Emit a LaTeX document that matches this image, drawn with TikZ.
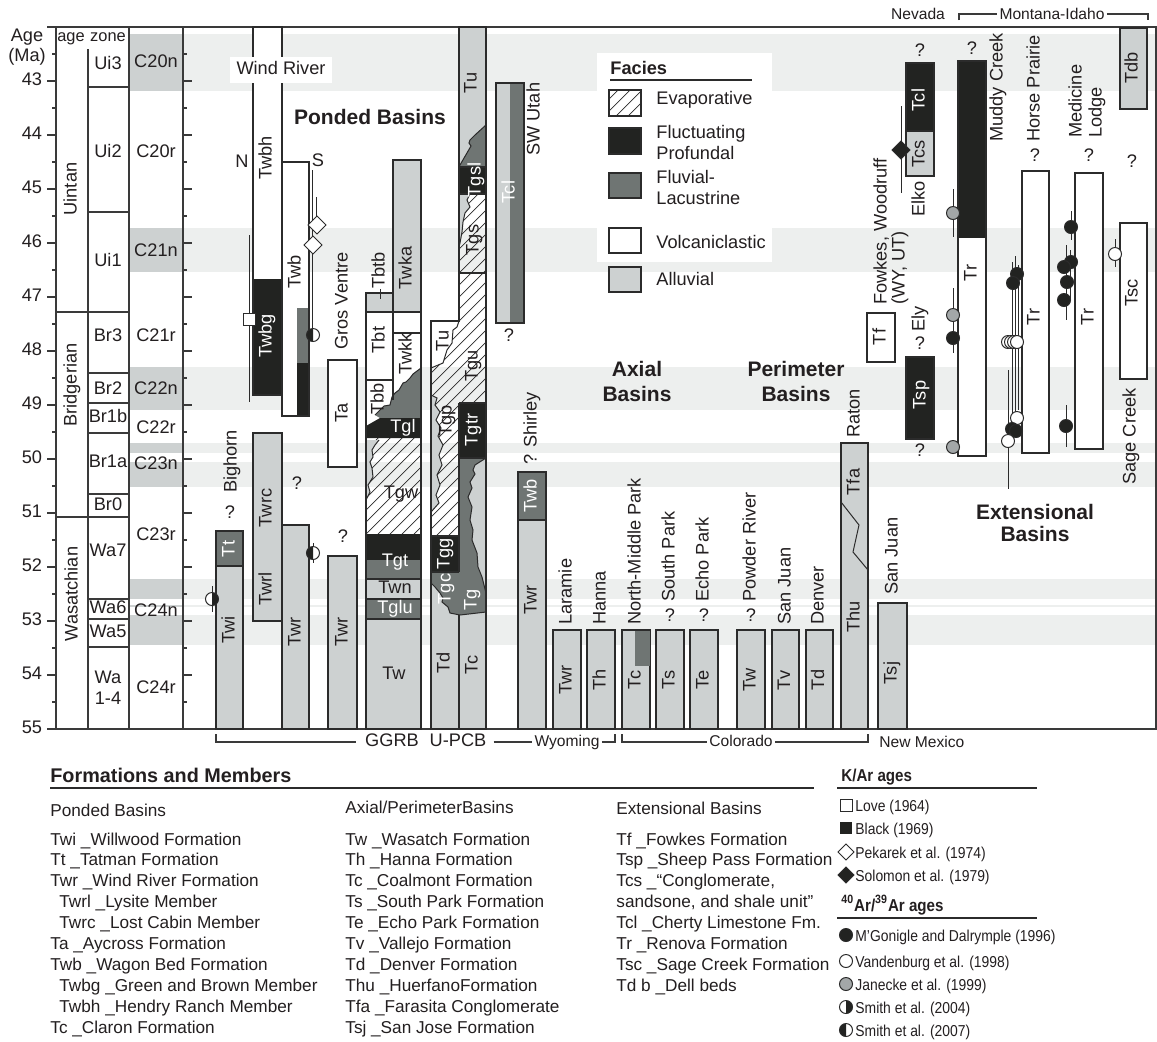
\documentclass[tikz,border=0pt]{standalone}
\usepackage{fontspec}
\setmainfont{Liberation Sans}
\newfontfamily\condf[FakeStretch=0.88]{Liberation Sans}
\definecolor{alluv}{HTML}{CDD1D1}
\definecolor{fluv}{HTML}{6F7573}
\definecolor{prof}{HTML}{222321}
\definecolor{bandc}{HTML}{EDEFEE}
\definecolor{chronc}{HTML}{CDD1D1}
\definecolor{lc}{HTML}{2B2B2B}
\definecolor{txt}{HTML}{231F20}
\definecolor{jan}{HTML}{A3A7A8}
\definecolor{axc}{HTML}{3A3A3A}
\newcommand\hatchit[1]{\begin{scope}\clip #1;\foreach \k in {300,312,...,1320}{\draw[hatchl] (\k-800,800) -- (\k,0);}\end{scope}}
\newcommand\dotc[3]{\filldraw[fill=#3,draw=lc,line width=0.5pt] (#1,#2) circle[radius=6.5];}
\newcommand\dmd[4]{\filldraw[fill=#3,draw=lc,line width=0.5pt] (#1,#2-#4) -- (#1+#4,#2) -- (#1,#2+#4) -- (#1-#4,#2) -- cycle;}
\newcommand\halfL[3]{\fill[white] (#1,#2) circle[radius=#3];\begin{scope}\clip (#1-9,#2-9) rectangle (#1,#2+9);\fill[prof] (#1,#2) circle[radius=#3];\end{scope}\draw[lc,line width=0.5pt] (#1,#2) circle[radius=#3];}
\newcommand\halfR[3]{\fill[white] (#1,#2) circle[radius=#3];\begin{scope}\clip (#1,#2-9) rectangle (#1+9,#2+9);\fill[prof] (#1,#2) circle[radius=#3];\end{scope}\draw[lc,line width=0.5pt] (#1,#2) circle[radius=#3];}
\begin{document}
\begin{tikzpicture}[x=0.5pt,y=-0.5pt,
  lab/.style={font=\fontsize{9.1}{10}\selectfont,inner sep=0pt,text height=6.6pt,text depth=1.9pt,text=txt},
  rl/.style={lab,rotate=90},
  rw/.style={rl,text=white},
  hw/.style={lab,text=white},
  bl/.style={lab,rotate=90,anchor=west},
  ml/.style={font=\fontsize{9.1}{9}\selectfont,inner sep=0pt,text=txt,align=left},
  sm/.style={font=\fontsize{7.8}{9}\selectfont,inner sep=0pt,text height=5.6pt,text depth=1.6pt,text=txt},
  ttl/.style={font=\bfseries\fontsize{10.5}{12.5}\selectfont,inner sep=0pt,text=txt,align=center},
  bx/.style={draw=lc,line width=0.6pt},
  hatchl/.style={draw=lc,line width=0.35pt},
  bar/.style={draw=lc,line width=0.5pt},
  zz/.style={draw=lc,line width=0.5pt},
  axl/.style={draw=axc,line width=0.6pt},
  leg/.style={font=\fontsize{8.6}{10}\selectfont,inner sep=0pt,anchor=base west,text=txt},
  cl/.style={font=\condf\fontsize{7.9}{9}\selectfont,inner sep=0pt,anchor=base west,text=txt},
]
\useasboundingbox (0,0) rectangle (1157,1041);
\fill[white] (0,0) rectangle (1157,1041);
% ---------- bands ----------
\foreach \t/\b in {34/91,228/272,367/410,443/453,462/487,579/599,605/607,615/645}{
  \fill[chronc] (129,\t) rectangle (183,\b);
  \fill[bandc] (183,\t) rectangle (1156,\b);}
\fill[white] (597,53) rectangle (772,262);
% ---------- frame and time scale ----------
\draw[axl,line width=0.8pt] (47,27) -- (1157,27);
\draw[axl] (47,729) -- (1156,729) -- (1156,27);
\draw[axl] (56,27) -- (56,729);
\draw[axl] (88,49) -- (88,729);
\draw[axl] (129,27) -- (129,729);
\draw[axl] (183,27) -- (183,729);
\foreach \a in {43,...,55}{
  \draw[axl] (47,{81+(\a-43)*54}) -- (56,{81+(\a-43)*54});
  \draw[axl] (183,{81+(\a-43)*54}) -- (192,{81+(\a-43)*54});
  \node[lab] (ax\a) at (32,{81+(\a-43)*54}) {\a};}
\foreach \a in {42.5,43.5,...,54.5}{
  \draw[axl] (52,{81+(\a-43)*54}) -- (56,{81+(\a-43)*54});
  \draw[axl] (183,{81+(\a-43)*54}) -- (187,{81+(\a-43)*54});}
\node[lab] (agelab) at (27,37) {Age};
\node[lab] (malab) at (27,57) {(Ma)};
\node[lab,font=\fontsize{8.2}{9}\selectfont] (hage) at (71,37) {age};
\node[lab,font=\fontsize{8.2}{9}\selectfont] (hzone) at (108,37) {zone};
\foreach \y in {312,517} \draw[axl] (56,\y) -- (129,\y);
\foreach \y in {87,212,373,403,433,494,599,619,647} \draw[axl] (88,\y) -- (129,\y);
\node[rl] (uintan) at (72,189) {Uintan};
\node[rl] (bridger) at (72,385) {Bridgerian};
\node[rl] (wasatch) at (73,594) {Wasatchian};
\foreach \n/\y in {Ui3/65,Ui2/153,Ui1/262,Br3/337,Br2/390,Br1b/418,Br1a/463,Br0/506,Wa7/552,Wa6/609,Wa5/633,Wa/679,1-4/700}
  \node[lab] (zone\n) at (108,\y) {\n};
\foreach \n/\y in {C20n/63,C20r/153,C21n/252,C21r/337,C22n/390,C22r/429,C23n/465,C23r/536,C24n/612,C24r/689}
  \node[lab] (chron\n) at (156,\y) {\n};
% ---------- Bighorn ----------
\fill[fluv] (216,531) rectangle (243,566);
\fill[alluv] (216,566) rectangle (243,729);
\draw[bx] (216,531) rectangle (243,729); \draw[bx] (216,566) -- (243,566);
\node[rw] (tt) at (230,549) {Tt};
\node[rl] (twi) at (230,630) {Twi};
\node[lab] (q1) at (230,514) {?};
\node[bl] (bighorn) at (232,493) {Bighorn};
\draw[bar] (212,586) -- (212,612); \halfR{212}{599}{6.5}
% ---------- Wind River ----------
\fill[alluv] (253,433) rectangle (282,621); \draw[bx] (253,433) rectangle (282,621);
\node[rl] (twrc) at (267,508) {Twrc};
\node[rl] (twrl) at (267,589) {Twrl};
\fill[white] (253,27) rectangle (282,279); \fill[prof] (253,279) rectangle (282,395);
\draw[bx] (253,27) rectangle (282,395);
\node[rl] (twbh) at (267,158) {Twbh};
\node[rw] (twbg) at (267,336) {Twbg};
\fill[white] (230,57) rectangle (332,83);
\node[lab] (windriver) at (281,70) {Wind River};
\fill[white] (282,162) rectangle (309,416); \fill[fluv] (297,308) rectangle (309,363); \fill[prof] (297,363) rectangle (309,416);
\draw[bx] (282,162) rectangle (309,416);
\node[rl] (twb) at (296,272) {Twb};
\node[lab] (nlab) at (242,163) {N};
\node[lab] (slab) at (318,162) {S};
\fill[alluv] (282,525) rectangle (309,729); \draw[bx] (282,525) rectangle (309,729);
\node[lab] (q2) at (297,485) {?};
\node[rl] (twr1) at (296,632) {Twr};
\draw[bar] (249,235) -- (249,402);
\filldraw[fill=white,draw=lc,line width=0.5pt] (243,313) rectangle (255,325);
\draw[bar] (312,170) -- (312,330); \draw[bar] (316,197) -- (316,232);
\dmd{317}{225}{white}{9} \dmd{313}{245}{white}{9}
\halfL{313}{335}{6.5}
\draw[bar] (313,543) -- (313,563); \halfL{313}{553}{6.5}
% ---------- Gros Ventre ----------
\node[bl] (grosventre) at (343,350) {Gros Ventre};
\filldraw[fill=white,bx] (328,360) rectangle (357,467);
\node[rl] (ta) at (343,413) {Ta};
\fill[alluv] (328,556) rectangle (357,729); \draw[bx] (328,556) rectangle (357,729);
\node[lab] (q3) at (343,538) {?};
\node[rl] (twr2) at (343,632) {Twr};
% ---------- GGRB ----------
\fill[alluv] (393,160) rectangle (421,312);
\fill[alluv] (366,293) rectangle (393,312);
\fill[white] (366,312) rectangle (421,438);
\fill[fluv] (421,368) -- (413,374) -- (410,378) -- (406,382) -- (403,383) -- (399,390) -- (395,393) -- (392,397) -- (390,405) -- (384,406) -- (378,412) -- (375,415) -- (380,418) -- (421,418) -- cycle;
\draw[zz] (421,368) -- (413,374) -- (410,378) -- (406,382) -- (403,383) -- (399,390) -- (395,393) -- (392,397) -- (390,405) -- (384,406) -- (378,412) -- (375,415);
\fill[prof] (366,426) -- (380,418) -- (421,418) -- (421,438) -- (366,438) -- cycle;
\hatchit{(366,438) rectangle (421,534)}
\fill[alluv] (366,440) -- (379,440) -- (375,445) -- (372,450) -- (373,457) -- (370,462) -- (372,468) -- (373,477) -- (368,485) -- (370,492) -- (366,500) -- cycle;
\draw[zz] (379,440) -- (375,445) -- (372,450) -- (373,457) -- (370,462) -- (372,468) -- (373,477) -- (368,485) -- (370,492) -- (366,500);
\fill[prof] (366,534) rectangle (421,560);
\fill[fluv] (366,560) rectangle (421,579);
\fill[alluv] (366,579) rectangle (421,599);
\fill[fluv] (366,599) rectangle (421,619);
\fill[alluv] (366,619) rectangle (421,729);
\draw[bx] (366,729) -- (366,293) -- (393,293) -- (393,160) -- (421,160) -- (421,729) -- cycle;
\draw[bx] (366,312) -- (421,312); \draw[bx] (393,333) -- (421,333); \draw[bx] (366,380) -- (393,380);
\draw[bx] (393,293) -- (393,400);
\foreach \y in {579,599,619} \draw[bx] (366,\y) -- (421,\y);
\node[rl] (twka) at (407,268) {Twka};
\node[bl] (tbtb) at (380,289) {Tbtb};
\draw[bar] (380,289) -- (380,299);
\node[rl] (tbt) at (380,340) {Tbt};
\node[rl] (twkk) at (407,354) {Twkk};
\node[rl] (tbb) at (379,399) {Tbb};
\node[hw] (tgl) at (403,428) {Tgl};
\node[lab] (tgw) at (401,494) {Tgw};
\node[hw] (tgt) at (395,562) {Tgt};
\node[lab] (twn) at (395,589) {Twn};
\node[hw] (tglu) at (395,609) {Tglu};
\node[lab] (tw1) at (394,675) {Tw};
% ---------- U-PCB ----------
\fill[alluv] (459,27) rectangle (486,167);
\fill[fluv] (486,125) -- (475,135) -- (470,140) -- (469,143) -- (471,146) -- (460,165) -- (459,167) -- (486,167) -- cycle;
\draw[zz] (486,125) -- (475,135) -- (470,140) -- (469,143) -- (471,146) -- (460,165) -- (459,167);
\fill[prof] (459,167) rectangle (486,194);
\hatchit{(459,194) rectangle (486,273)}
\fill[alluv] (459,194) -- (470,194) -- (467,200) -- (470,207) -- (465,213) -- (463,222) -- (462,232) -- (460,243) -- (459,247) -- cycle;
\draw[zz] (470,194) -- (467,200) -- (470,207) -- (465,213) -- (463,222) -- (462,232) -- (460,243) -- (459,247);
\hatchit{(431,368) -- (443,363) -- (447,350) -- (452,343) -- (453,330) -- (457,327) -- (459,321) -- (459,273) -- (486,273) -- (486,403) -- (459,403) -- (459,536) -- (431,536) -- cycle}
\fill[white] (431,321) -- (459,321) -- (457,327) -- (453,330) -- (452,343) -- (447,350) -- (443,363) -- (431,368) -- cycle;
\draw[zz] (459,321) -- (457,327) -- (453,330) -- (452,343) -- (447,350) -- (443,363) -- (431,368);
\fill[alluv] (431,395) -- (437,398) -- (435,405) -- (440,412) -- (436,420) -- (441,428) -- (438,436) -- (443,445) -- (439,455) -- (442,465) -- (437,475) -- (440,485) -- (436,495) -- (439,503) -- (431,512) -- cycle;
\draw[zz] (431,395) -- (437,398) -- (435,405) -- (440,412) -- (436,420) -- (441,428) -- (438,436) -- (443,445) -- (439,455) -- (442,465) -- (437,475) -- (440,485) -- (436,495) -- (439,503) -- (431,512);
\fill[prof] (459,403) rectangle (486,458);
\fill[prof] (431,536) rectangle (459,572);
\fill[alluv] (431,572) rectangle (459,729);
\fill[alluv] (459,458) rectangle (486,729);
\fill[fluv] (431,572) -- (459,572) -- (459,458) -- (486,458) -- (475,465) -- (473,470) -- (475,474) -- (470,482) -- (472,488) -- (468,497) -- (472,507) -- (470,520) -- (473,530) -- (472,540) -- (477,553) -- (478,567) -- (482,577) -- (486,593) -- (486,612) -- (460,615) -- (450,613) -- (448,607) -- (442,602) -- (443,598) -- (440,593) -- (435,587) -- (431,583) -- cycle;
\draw[zz] (486,458) -- (475,465) -- (473,470) -- (475,474) -- (470,482) -- (472,488) -- (468,497) -- (472,507) -- (470,520) -- (473,530) -- (472,540) -- (477,553) -- (478,567) -- (482,577) -- (486,593);
\draw[zz] (486,612) -- (460,615) -- (450,613) -- (448,607) -- (442,602) -- (443,598) -- (440,593) -- (435,587) -- (431,583);
\draw[bx] (431,729) -- (431,321) -- (459,321) -- (459,27) -- (486,27) -- (486,729) -- cycle;
\foreach \y in {167,194,273,403,458} \draw[bx] (459,\y) -- (486,\y);
\foreach \y in {536,572} \draw[bx] (431,\y) -- (459,\y);
\draw[bx] (459,403) -- (459,572); \draw[bx] (459,615) -- (459,729);
\node[rl] (tu1) at (472,83) {Tu};
\node[rw] (tgsl) at (476,180) {Tgsl};
\node[rl] (tgs) at (474,240) {Tgs};
\node[rl] (tu2) at (444,341) {Tu};
\node[rl] (tgu) at (473,366) {Tgu};
\node[rl] (tgp) at (447,421) {Tgp};
\node[rw] (tgtr) at (473,430) {Tgtr};
\node[rw] (tgg) at (445,554) {Tgg};
\node[rw] (tgc) at (446,589) {Tgc};
\node[rw] (tg) at (472,600) {Tg};
\node[rl] (td1) at (445,663) {Td};
\node[rl] (tc1) at (473,665) {Tc};
% ---------- SW Utah ----------
\fill[alluv] (496,83) rectangle (510,323);
\fill[fluv] (510,83) rectangle (524,323);
\draw[bx] (496,83) rectangle (524,323);
\node[rw] (tcl1) at (510,192) {Tcl};
\node[bl] (swutah) at (535,156) {SW Utah};
\node[lab] (q4) at (509,337) {?};
% ---------- titles ----------
\node[ttl] (ponded) at (370,117) {Ponded Basins};
\node[ttl] (axial) at (637,381) {Axial\\Basins};
\node[ttl] (perim) at (796,381) {Perimeter\\Basins};
\node[ttl,font=\bfseries\fontsize{10.5}{11}\selectfont] (extens) at (1035,523) {Extensional\\Basins};
% ---------- Facies legend ----------
\node[font=\bfseries\fontsize{9.1}{10}\selectfont,inner sep=0pt,anchor=west,text=txt] (facies) at (610,68) {Facies};
\draw[lc,line width=0.6pt] (610,80) -- (752,80);
\hatchit{(609,90) rectangle (641,116)}
\draw[bx] (609,90) rectangle (641,116);
\filldraw[fill=prof,bx] (609,128) rectangle (641,154);
\filldraw[fill=fluv,bx] (609,173) rectangle (641,198);
\filldraw[fill=white,bx] (609,228) rectangle (641,253);
\filldraw[fill=alluv,bx] (609,267) rectangle (641,292);
\node[lab,anchor=west] (fevap) at (656,100) {Evaporative};
\node[ml,font=\fontsize{9.1}{10.5}\selectfont,anchor=west] (fprof) at (656,142) {Fluctuating\\Profundal};
\node[ml,font=\fontsize{9.1}{10.5}\selectfont,anchor=west] (ffluv) at (656,187) {Fluvial-\\Lacustrine};
\node[lab,anchor=west] (fvolc) at (656,244) {Volcaniclastic};
\node[lab,anchor=west] (falluv) at (656,281) {Alluvial};
% ---------- Axial / perimeter ----------
\fill[fluv] (518,472) rectangle (546,520); \fill[alluv] (518,520) rectangle (546,729);
\draw[bx] (518,472) rectangle (546,729); \draw[bx] (518,520) -- (546,520);
\node[rw] (twb2) at (532,496) {Twb};
\node[rl] (twr3) at (532,600) {Twr};
\node[bl] (shirley) at (532,465) {? Shirley};
\foreach \xa/\xb/\lb [count=\i] in {553/581/Twr,587/615/Th,622/650/Tc,656/684/Ts,690/718/Te,737/765/Tw,772/799/Tv,806/833/Td}{
  \fill[alluv] (\xa,630) rectangle (\xb,729);
  \draw[bx] (\xa,630) rectangle (\xb,729);
  \node[rl] (ab\i) at ({(\xa+\xb)/2},680) {\lb};}
\fill[fluv] (635,631) rectangle (649.5,666);
\node[bl] (laramie) at (567,625) {Laramie};
\node[bl] (hanna) at (601,625) {Hanna};
\node[bl] (nmpark) at (636,625) {North-Middle Park};
\node[bl] (spark) at (670,602) {South Park};
\node[bl] (epark) at (704,602) {Echo Park};
\node[bl] (powder) at (751,602) {Powder River};
\node[bl] (sanjuan1) at (786,625) {San Juan};
\node[bl] (denver) at (819,625) {Denver};
\node[lab] (q5) at (670,617) {?};
\node[lab] (q6) at (704,617) {?};
\node[lab] (q7) at (751,617) {?};
\fill[alluv] (841,443) rectangle (868,729); \draw[bx] (841,443) rectangle (868,729);
\draw[zz] (841,502) -- (859,525) -- (853,552) -- (868,570);
\node[rl] (tfa) at (855,482) {Tfa};
\node[rl] (thu) at (855,617) {Thu};
\node[bl] (raton) at (855,438) {Raton};
\fill[alluv] (878,603) rectangle (907,729); \draw[bx] (878,603) rectangle (907,729);
\node[rl] (tsj) at (892,673) {Tsj};
\node[bl] (sanjuan2) at (893,595) {San Juan};
% ---------- Extensional ----------
\filldraw[fill=white,bx] (867,313) rectangle (895,362);
\node[rl] (tf) at (881,337) {Tf};
\node[ml,rotate=90,anchor=west] (fowkes) at (891,305) {Fowkes, Woodruff\\(WY, UT)};
\fill[prof] (906,63) rectangle (934,131); \fill[alluv] (906,131) rectangle (934,176);
\draw[bx] (906,63) rectangle (934,176); \draw[bx] (906,131) -- (934,131);
\node[rw] (tcl2) at (920,100) {Tcl};
\node[rl] (tcs) at (920,154) {Tcs};
\node[lab] (q8) at (920,52) {?};
\node[bl] (elko) at (920,217) {Elko};
\draw[bar] (901,106) -- (901,193); \dmd{901}{150}{prof}{9}
\node[bl] (ely) at (920,332) {Ely};
\node[lab] (q9) at (920,345) {?};
\filldraw[fill=prof,bx] (906,357) rectangle (934,439);
\node[rw] (tsp) at (921,395) {Tsp};
\node[lab] (q10) at (920,452) {?};
% Muddy Creek
\fill[prof] (958,61) rectangle (986,238); \fill[white] (958,238) rectangle (986,456);
\draw[bx] (958,61) rectangle (986,456);
\node[lab] (q11) at (972,50) {?};
\node[rl] (tr1) at (972,273) {Tr};
\node[bl] (muddy) at (998,142) {Muddy Creek};
\draw[bar] (953,189) -- (953,237); \dotc{953}{213}{jan}
\draw[bar] (953,288) -- (953,353); \dotc{953}{315}{jan} \dotc{953}{338}{prof}
\dotc{953}{447}{jan}
% Horse Prairie
\filldraw[fill=white,bx] (1022,171) rectangle (1049,453);
\node[lab] (q12) at (1035,157) {?};
\node[rl] (tr2) at (1035,317) {Tr};
\node[bl] (horse) at (1035,142) {Horse Prairie};
\draw[bar] (1008,370) -- (1008,489);
\draw[bar] (1012,262) -- (1012,432);
\draw[bar] (1015,256) -- (1015,420);
\draw[bar] (1018,265) -- (1018,410);
\dotc{1017}{274}{prof} \dotc{1013}{283}{prof}
\dotc{1008}{342}{white} \dotc{1011}{342}{white} \dotc{1014}{342}{white} \dotc{1017}{342}{white}
\dotc{1017}{418}{white} \dotc{1012}{429}{prof} \dotc{1016}{431}{prof} \dotc{1008}{441}{white}
% Medicine Lodge
\filldraw[fill=white,bx] (1075,173) rectangle (1103,449);
\node[lab] (q13) at (1089,157) {?};
\node[rl] (tr3) at (1089,317) {Tr};
\node[ml,rotate=90,anchor=west,font=\fontsize{9.1}{10}\selectfont] (medicine) at (1087,138) {Medicine\\Lodge};
\draw[bar] (1071,211) -- (1071,240); \dotc{1071}{227}{prof}
\draw[bar] (1066,245) -- (1066,320); \draw[bar] (1070,250) -- (1070,300);
\dotc{1071}{262}{prof} \dotc{1064}{267}{prof} \dotc{1067}{282}{prof} \dotc{1064}{300}{prof}
\draw[bar] (1066,405) -- (1066,447); \dotc{1066}{426}{prof}
% Sage Creek
\filldraw[fill=white,bx] (1120,223) rectangle (1147,379);
\node[lab] (q14) at (1132,163) {?};
\node[rl] (tsc) at (1133,293) {Tsc};
\node[bl] (sage) at (1131,485) {Sage Creek};
\draw[bar] (1115,239) -- (1115,267); \dotc{1115}{254}{white}
\filldraw[fill=alluv,bx] (1120,28) rectangle (1147,109);
\node[rl] (tdb) at (1133,68) {Tdb};
% ---------- header ----------
\node[sm] (nevada) at (918,15) {Nevada};
\node[sm] (montana) at (1052,15) {Montana-Idaho};
\draw[axl] (959,20) -- (959,14) -- ([xshift=-1pt]montana.west |- 0,14);
\draw[axl] ([xshift=1pt]montana.east |- 0,14) -- (1148,14) -- (1148,20);
% ---------- bottom brackets ----------
\node[lab] (ggrb) at (392,742) {GGRB};
\node[lab] (upcb) at (458,742) {U-PCB};
\node[sm] (wyo) at (567,742) {Wyoming};
\node[sm] (colo) at (741,742) {Colorado};
\node[sm,anchor=west] (newmex) at (879,743) {New Mexico};
\draw[axl] (216,734) -- (216,742) -- ([xshift=-4.5pt]ggrb.west);
\draw[axl] ([xshift=3.5pt]upcb.east) -- ([xshift=-1pt]wyo.west);
\draw[axl] ([xshift=1pt]wyo.east) -- (615,742) -- (615,734);
\draw[axl] (622,734) -- (622,742) -- ([xshift=-1pt]colo.west);
\draw[axl] ([xshift=1pt]colo.east) -- (868,742) -- (868,734);
% ---------- Formations legend ----------
\node[font=\bfseries\fontsize{9.9}{11}\selectfont,inner sep=0pt,anchor=base west,text=txt] (formtitle) at (50,782) {Formations and Members};
\draw[lc,line width=0.6pt] (50,788) -- (814,788);
\node[leg] (hpond) at (50,816) {Ponded Basins};
\node[leg] (haxial) at (345,813) {Axial/PerimeterBasins};
\node[leg] (hext) at (616,814) {Extensional Basins};
\foreach \t [count=\i] in {{Twi \_Willwood Formation},{Tt \_Tatman Formation},{Twr \_Wind River Formation},{\hspace*{4.5pt}Twrl \_Lysite Member},{\hspace*{4.5pt}Twrc \_Lost Cabin Member},{Ta \_Aycross Formation},{Twb \_Wagon Bed Formation},{\hspace*{4.5pt}Twbg \_Green and Brown Member},{\hspace*{4.5pt}Twbh \_Hendry Ranch Member},{Tc \_Claron Formation}}
  \node[leg] (pa\i) at (50,{845+20.9*(\i-1)}) {\t};
\foreach \t [count=\i] in {{Tw \_Wasatch Formation},{Th \_Hanna Formation},{Tc \_Coalmont Formation},{Ts \_South Park Formation},{Te \_Echo Park Formation},{Tv \_Vallejo Formation},{Td \_Denver Formation},{Thu \_HuerfanoFormation},{Tfa \_Farasita Conglomerate},{Tsj \_San Jose Formation}}
  \node[leg] (apl\i) at (345,{845+20.9*(\i-1)}) {\t};
\foreach \t [count=\i] in {{Tf \_Fowkes Formation},{Tsp \_Sheep Pass Formation},{Tcs \_“Conglomerate,},{sandsone, and shale unit”},{Tcl \_Cherty Limestone Fm.},{Tr \_Renova Formation},{Tsc \_Sage Creek Formation},{Td b \_Dell beds}}
  \node[leg] (ex\i) at (616,{845+20.9*(\i-1)}) {\t};
% ---------- Age legend ----------
\node[font=\condf\bfseries\fontsize{8.6}{10}\selectfont,inner sep=0pt,anchor=base west,text=txt] (kar) at (841,781) {K/Ar ages};
\draw[lc,line width=0.6pt] (837,788) -- (1037,788);
\filldraw[fill=white,draw=lc,line width=0.5pt] (840,799) rectangle (852,811);
\node[cl] (love) at (855,811) {Love (1964)};
\fill[prof] (840,822) rectangle (852,834);
\node[cl] (black) at (855,834) {Black (1969)};
\dmd{846}{852}{white}{8}
\node[cl] (pekarek) at (855,858) {Pekarek et al. (1974)};
\dmd{846}{875}{prof}{8}
\node[cl] (solomon) at (855,881) {Solomon et al. (1979)};
\node[font=\condf\bfseries\fontsize{8.6}{10}\selectfont,inner sep=0pt,anchor=base west,text=txt] (arar) at (841,911) {\textsuperscript{40}Ar/\textsuperscript{39}Ar ages};
\draw[lc,line width=0.6pt] (837,918) -- (1037,918);
\dotc{846}{935}{prof}
\node[cl] (mgon) at (855,941) {M’Gonigle and Dalrymple (1996)};
\dotc{846}{961}{white}
\node[cl] (vand) at (855,967) {Vandenburg et al. (1998)};
\dotc{846}{984}{jan}
\node[cl] (jane) at (855,990) {Janecke et al. (1999)};
\halfR{846}{1007}{6.5}
\node[cl] (smith4) at (855,1013) {Smith et al. (2004)};
\halfL{846}{1030}{6.5}
\node[cl] (smith7) at (855,1036) {Smith et al. (2007)};
\end{tikzpicture}
\end{document}
